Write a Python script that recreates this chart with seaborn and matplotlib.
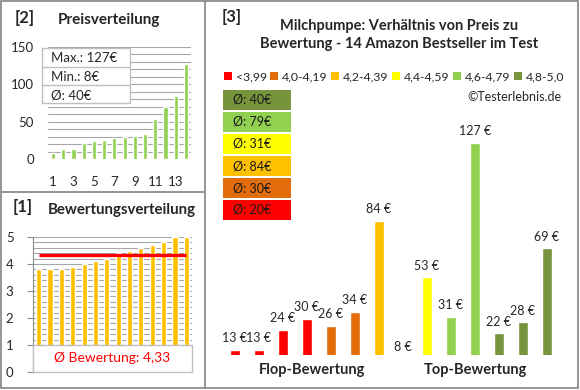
import numpy as np
import pandas as pd
import matplotlib
matplotlib.use("Agg")
import matplotlib.pyplot as plt
from matplotlib.patches import Rectangle, Patch
from matplotlib.lines import Line2D
import seaborn as sns

# ---------------- data ----------------
ratings = [3.8, 3.8, 3.8, 3.9, 4.0, 4.1, 4.2, 4.4, 4.5, 4.6, 4.7, 4.8, 5.0, 5.0]
prices_by_rating = [13, 13, 24, 30, 26, 34, 84, 8, 53, 31, 127, 22, 28, 69]
price_rank_labels = [str(i) for i in range(1, 15)]
group_labels = ["<3,99", "4,0-4,19", "4,2-4,39", "4,4-4,59", "4,6-4,79", "4,8-5,0"]
group_bins = [0, 3.995, 4.195, 4.395, 4.595, 4.795, 5.01]
group_colors = ["#FF0000", "#E46C0A", "#FFC000", "#FFFF00", "#92D050", "#77933C"]
section_labels = ["Flop-Bewertung", "Top-Bewertung"]
title_text = "Milchpumpe: Verhältnis von Preis zu\nBewertung - 14 Amazon Bestseller im Test"

sns.set_style("white")
plt.rcParams["font.family"] = ["Lato", "DejaVu Sans"]

W, H = 580, 390
def fx(p): return p / W
def fy(p): return 1 - p / H

fig = plt.figure(figsize=(5.8, 3.9), dpi=100)
GRAY = "#8C8C8C"
GRID = "#A6A6A6"

# ---------------- panel [2] Preisverteilung ----------------
sorted_prices = sorted(prices_by_rating)
df2 = pd.DataFrame({"rank": price_rank_labels, "price": sorted_prices})
ax2 = fig.add_axes([fx(48), fy(159), fx(191) - fx(48), (159 - 47) / H])
sns.barplot(data=df2, x="rank", y="price", color="#92D050", width=0.4,
            saturation=1, ax=ax2, zorder=3)
ax2.set_ylim(0, 150)
ax2.set_xlim(-0.5, 13.5)
ax2.set_yticks([0, 50, 100, 150])
ax2.set_yticks(np.arange(0, 151, 10), minor=True)
ax2.grid(axis="y", which="both", color=GRID, lw=0.8, zorder=0)
ax2.set_xticks(range(0, 14, 2))
ax2.set_xticklabels(price_rank_labels[::2])
ax2.tick_params(axis="both", length=0, labelsize=9.5)
ax2.tick_params(axis="y", pad=10)
ax2.tick_params(axis="x", pad=12)
ax2.set_xlabel(""); ax2.set_ylabel("")
for s in ax2.spines.values():
    s.set_visible(False)

fig.text(fx(15), fy(18), "[2]", fontsize=12, fontweight="bold", va="center")
fig.text(fx(58), fy(20), "Preisverteilung", fontsize=11, fontweight="bold", va="center")

# info box
fig.add_artist(Rectangle((fx(42), fy(103)), (130 - 42) / W, (103 - 48) / H,
                         transform=fig.transFigure, facecolor="white",
                         edgecolor="#BFBFBF", lw=1, zorder=5))
for yy in (67, 85):
    fig.add_artist(Line2D([fx(42), fx(130)], [fy(yy), fy(yy)], transform=fig.transFigure,
                          color="#BFBFBF", lw=1, zorder=6))
pmax, pmin, pmean = max(prices_by_rating), min(prices_by_rating), np.mean(prices_by_rating)
for yy, t in zip((58, 77, 95), (f"Max.: {pmax}€", f"Min.: {pmin}€", f"Ø: {int(pmean + 0.5)}€")):
    fig.text(fx(51), fy(yy), t, fontsize=9.5, va="center", zorder=7)

# ---------------- panel [1] Bewertungsverteilung ----------------
df1 = pd.DataFrame({"idx": [str(i) for i in range(1, 15)], "rating": ratings})
ax1 = fig.add_axes([fx(33), fy(372), (192 - 33) / W, (372 - 237) / H])
sns.barplot(data=df1, x="idx", y="rating", color="#FFC000", width=0.45,
            saturation=1, ax=ax1, zorder=3)
ax1.set_ylim(0, 5)
ax1.set_xlim(-0.5, 13.5)
ax1.set_yticks(range(0, 6))
ax1.set_yticks(np.arange(0, 5.01, 0.2), minor=True)
ax1.grid(axis="y", which="both", color=GRID, lw=0.8, zorder=0)
ax1.set_xticks([])
ax1.tick_params(axis="y", which="major", length=4, color=GRAY, labelsize=9.5, pad=10, left=True)
ax1.tick_params(axis="y", which="minor", length=0)
ax1.set_xlabel(""); ax1.set_ylabel("")
for k, s in ax1.spines.items():
    s.set_visible(k == "left")
ax1.spines["left"].set_color(GRAY)
mean_rating = np.mean(ratings)
ax1.plot([0, 13], [mean_rating, mean_rating], color="#FF0000", lw=2.4, zorder=4,
         solid_capstyle="butt")
ax1.add_patch(Rectangle((0, 0), 1, 0.2, transform=ax1.transAxes, facecolor="white",
                        edgecolor="#BFBFBF", lw=1, zorder=6, clip_on=False))
ax1.text(0.5, 0.1, f"Ø Bewertung: {mean_rating:.2f}".replace(".", ","),
         transform=ax1.transAxes, ha="center", va="center", color="#FF0000",
         fontsize=10, zorder=7)

fig.text(fx(13), fy(207), "[1]", fontsize=12, fontweight="bold", va="center")
fig.text(fx(48), fy(210), "Bewertungsverteilung", fontsize=10.8, fontweight="bold", va="center")

# ---------------- panel [3] main ----------------
groups = pd.cut(ratings, bins=group_bins, labels=group_labels)
df3 = pd.DataFrame({"pos": list(range(14)), "price": prices_by_rating,
                    "group": pd.Categorical(groups, categories=group_labels)})
palette = dict(zip(group_labels, group_colors))
ax3 = fig.add_axes([fx(223), fy(355), (559 - 223) / W, 140 * (212 / 117) / H])
sns.barplot(data=df3, x="pos", y="price", hue="group", palette=palette, dodge=False,
            width=0.42, saturation=1, legend=False, ax=ax3)
ax3.set_ylim(10, 150)
ax3.set_xlim(-0.5, 13.5)
ax3.axis("off")
for i, v in enumerate(prices_by_rating):
    ax3.annotate(f"{v} €", (i, v), xytext=(0, 4), textcoords="offset points",
                 ha="center", va="bottom", fontsize=9, annotation_clip=False)
ax3.text(3.2, -0.03, section_labels[0], transform=ax3.get_xaxis_transform(),
         ha="center", va="top", fontsize=10.5, fontweight="bold")
ax3.text(10, -0.03, section_labels[1], transform=ax3.get_xaxis_transform(),
         ha="center", va="top", fontsize=10.5, fontweight="bold")

fig.text(fx(222), fy(17), "[3]", fontsize=12, fontweight="bold", va="center")
fig.text(fx(399), fy(35), title_text, fontsize=10.5, fontweight="bold",
         ha="center", va="center", linespacing=1.45)

handles = [Patch(facecolor=c, edgecolor="none", label=l) for l, c in zip(group_labels, group_colors)]
fig.legend(handles=handles, loc="center", bbox_to_anchor=(fx(394), fy(77)), ncol=6,
           frameon=False, fontsize=8.8, handlelength=0.65, handleheight=0.65,
           handletextpad=0.3, columnspacing=0.3, borderaxespad=0, borderpad=0)
fig.text(fx(562), fy(97), "©Testerlebnis.de", fontsize=9, ha="right", va="center")

# group average boxes (top: best group)
means = df3.groupby("group", observed=False)["price"].mean()
for k, (lab, col) in enumerate(reversed(list(zip(group_labels, group_colors)))):
    top = 90 + 22 * k
    fig.add_artist(Rectangle((fx(223), fy(top + 20)), 68 / W, 20 / H,
                             transform=fig.transFigure, facecolor=col, edgecolor="none"))
    fig.text(fx(233), fy(top + 10), f"Ø: {int(means[lab] + 0.5)}€", fontsize=9,
             va="center", color="#1a1a1a")

# ---------------- frame lines ----------------
fig.add_artist(Rectangle((fx(1), fy(388)), 577 / W, 387 / H, transform=fig.transFigure,
                         facecolor="none", edgecolor=GRAY, lw=1.3))
fig.add_artist(Line2D([fx(205), fx(205)], [fy(1), fy(388)], transform=fig.transFigure,
                      color=GRAY, lw=1.3))
fig.add_artist(Line2D([fx(1), fx(205)], [fy(192), fy(192)], transform=fig.transFigure,
                      color=GRAY, lw=1.3))

fig.savefig("out.png", dpi=100)
